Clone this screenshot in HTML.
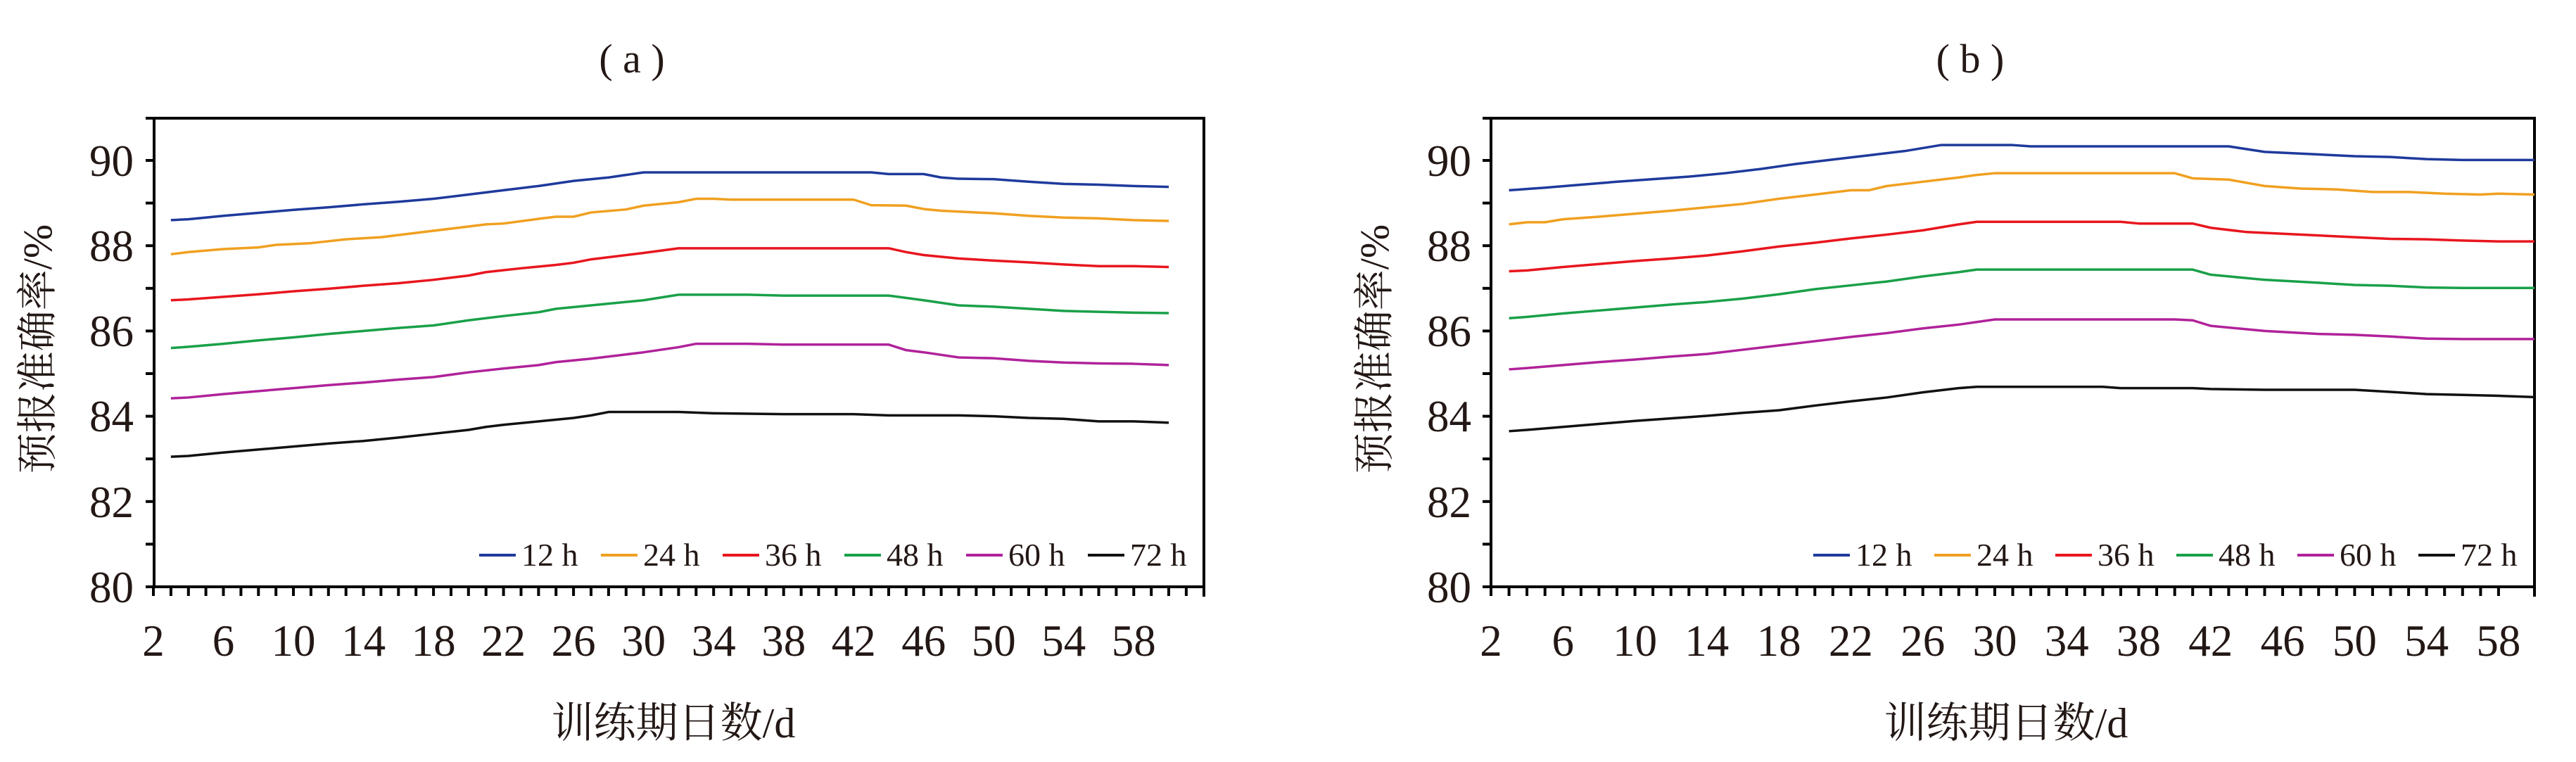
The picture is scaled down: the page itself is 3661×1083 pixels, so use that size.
<!DOCTYPE html>
<html><head><meta charset="utf-8"><style>
html,body{margin:0;padding:0;background:#fff;}
svg{display:block;}
.t{font-family:"Liberation Serif","Noto Serif CJK SC",serif;fill:#231815;}
</style></head><body>
<svg width="3661" height="1083" viewBox="0 0 3661 1083" xmlns="http://www.w3.org/2000/svg">
<defs>
<g id="yt" stroke="#000" stroke-width="4">
<line x1="-12" y1="834" x2="0" y2="834"/><line x1="-12" y1="773.4" x2="0" y2="773.4"/><line x1="-12" y1="712.8" x2="0" y2="712.8"/><line x1="-12" y1="652.2" x2="0" y2="652.2"/><line x1="-12" y1="591.6" x2="0" y2="591.6"/><line x1="-12" y1="531" x2="0" y2="531"/><line x1="-12" y1="470.4" x2="0" y2="470.4"/><line x1="-12" y1="409.8" x2="0" y2="409.8"/><line x1="-12" y1="349.2" x2="0" y2="349.2"/><line x1="-12" y1="288.6" x2="0" y2="288.6"/><line x1="-12" y1="228" x2="0" y2="228"/><line x1="-12" y1="168" x2="0" y2="168"/>
</g>
</defs>

<!-- ===== Panel a ===== -->
<text class="t" x="898" y="103" font-size="58" text-anchor="middle">( a )</text>
<use href="#yt" x="219"/>
<g stroke="#000" stroke-width="4" fill="none">
<line x1="207" y1="168" x2="1713" y2="168"/>
<line x1="219" y1="166" x2="219" y2="836"/>
<line x1="1711" y1="166" x2="1711" y2="848"/>
<line x1="217" y1="834" x2="1713" y2="834"/>
<path d="M218 834v13M242.9 834v13M267.8 834v13M292.6 834v13M317.5 834v13M342.4 834v13M367.3 834v13M392.2 834v13M417 834v13M441.9 834v13M466.8 834v13M491.7 834v13M516.6 834v13M541.4 834v13M566.3 834v13M591.2 834v13M616.1 834v13M641 834v13M665.8 834v13M690.7 834v13M715.6 834v13M740.5 834v13M765.4 834v13M790.2 834v13M815.1 834v13M840 834v13M864.9 834v13M889.8 834v13M914.6 834v13M939.5 834v13M964.4 834v13M989.3 834v13M1014.2 834v13M1039 834v13M1063.9 834v13M1088.8 834v13M1113.7 834v13M1138.6 834v13M1163.4 834v13M1188.3 834v13M1213.2 834v13M1238.1 834v13M1263 834v13M1287.8 834v13M1312.7 834v13M1337.6 834v13M1362.5 834v13M1387.4 834v13M1412.2 834v13M1437.1 834v13M1462 834v13M1486.9 834v13M1511.8 834v13M1536.6 834v13M1561.5 834v13M1586.4 834v13M1611.3 834v13M1636.2 834v13M1661 834v13M1685.9 834v13"/>
</g>
<g class="t" font-size="63" text-anchor="end">
<text x="190" y="856">80</text><text x="190" y="735">82</text><text x="190" y="613">84</text><text x="190" y="492">86</text><text x="190" y="371">88</text><text x="190" y="250">90</text>
</g>
<g class="t" font-size="63" text-anchor="middle">
<text x="218" y="932">2</text><text x="317.5" y="932">6</text><text x="417" y="932">10</text><text x="516.6" y="932">14</text><text x="616.1" y="932">18</text><text x="715.6" y="932">22</text><text x="815.1" y="932">26</text><text x="914.6" y="932">30</text><text x="1014.2" y="932">34</text><text x="1113.7" y="932">38</text><text x="1213.2" y="932">42</text><text x="1312.7" y="932">46</text><text x="1412.2" y="932">50</text><text x="1511.8" y="932">54</text><text x="1611.3" y="932">58</text>
</g>
<text class="t" font-size="58" text-anchor="middle" transform="translate(73,496) rotate(-90)">预报准确率/%</text>
<text class="t" font-size="60" text-anchor="middle" x="957" y="1048">训练期日数/d</text>

<g transform="translate(168.24,5682) scale(24.88,-60.6)" fill="none" stroke-width="3.5" stroke-linejoin="round">
<polyline vector-effect="non-scaling-stroke" stroke="#1f3a9c" points="3,88.6 4,88.62 6,88.7 8,88.77 10,88.84 12,88.9 14,88.97 16,89.03 18,89.1 20,89.2 22,89.3 24,89.4 26,89.52 28,89.6 30,89.72 32,89.72 43,89.72 44,89.68 46,89.68 47,89.6 48,89.57 50,89.56 52,89.5 54,89.45 56,89.43 58,89.4 60,89.38"/>
<polyline vector-effect="non-scaling-stroke" stroke="#f0a020" points="3,87.8 4,87.85 6,87.92 8,87.96 9,88.02 11,88.06 13,88.15 15,88.2 17,88.3 19,88.4 21,88.5 22,88.52 24,88.63 25,88.68 26,88.68 27,88.78 29,88.85 30,88.94 32,89.02 33,89.1 34,89.1 35,89.08 42,89.08 43,88.95 45,88.94 46,88.86 47,88.82 50,88.76 52,88.7 54,88.66 56,88.64 58,88.6 60,88.58"/>
<polyline vector-effect="non-scaling-stroke" stroke="#e8161e" points="3,86.72 4,86.74 6,86.8 8,86.86 10,86.93 12,86.99 14,87.06 16,87.12 18,87.2 20,87.3 21,87.38 23,87.47 25,87.55 26,87.6 27,87.68 30,87.83 32,87.94 44,87.94 45,87.85 46,87.78 48,87.7 50,87.65 52,87.61 54,87.56 56,87.52 58,87.52 60,87.5"/>
<polyline vector-effect="non-scaling-stroke" stroke="#1aa049" points="3,85.6 4,85.63 6,85.7 8,85.78 10,85.85 12,85.93 14,86 16,86.07 18,86.13 20,86.25 22,86.35 24,86.44 25,86.52 27,86.6 30,86.72 32,86.85 36,86.85 38,86.83 44,86.83 46,86.72 48,86.6 50,86.57 54,86.47 58,86.43 60,86.42"/>
<polyline vector-effect="non-scaling-stroke" stroke="#b0229a" points="3,84.42 4,84.44 6,84.52 8,84.59 10,84.66 12,84.73 14,84.79 16,84.86 18,84.92 20,85.03 22,85.12 24,85.2 25,85.27 27,85.35 30,85.5 32,85.62 33,85.7 36,85.7 38,85.68 44,85.68 45,85.55 46,85.5 48,85.38 50,85.36 52,85.3 54,85.26 56,85.24 58,85.23 60,85.2"/>
<polyline vector-effect="non-scaling-stroke" stroke="#111" points="3,83.05 4,83.07 6,83.15 8,83.22 10,83.29 12,83.36 14,83.42 16,83.5 18,83.59 20,83.68 21,83.75 22,83.8 24,83.88 26,83.96 27,84.02 28,84.1 32,84.1 34,84.07 38,84.05 42,84.05 44,84.02 48,84.02 50,84 52,83.96 54,83.94 56,83.88 58,83.88 60,83.85"/>
</g>
<g stroke-width="4">
<line x1="681" y1="789" x2="733" y2="789" stroke="#1f3a9c"/>
<line x1="854" y1="789" x2="906" y2="789" stroke="#f0a020"/>
<line x1="1027" y1="789" x2="1079" y2="789" stroke="#e8161e"/>
<line x1="1200" y1="789" x2="1252" y2="789" stroke="#1aa049"/>
<line x1="1373" y1="789" x2="1425" y2="789" stroke="#b0229a"/>
<line x1="1546" y1="789" x2="1598" y2="789" stroke="#111"/>
</g>
<g class="t" font-size="46">
<text x="741" y="804">12 h</text><text x="914" y="804">24 h</text><text x="1087" y="804">36 h</text><text x="1260" y="804">48 h</text><text x="1433" y="804">60 h</text><text x="1606" y="804">72 h</text>
</g>

<!-- ===== Panel b ===== -->
<text class="t" x="2800" y="103" font-size="58" text-anchor="middle">( b )</text>
<use href="#yt" x="2119"/>
<g stroke="#000" stroke-width="4" fill="none">
<line x1="2107" y1="168" x2="3604" y2="168"/>
<line x1="2119" y1="166" x2="2119" y2="836"/>
<line x1="3602" y1="166" x2="3602" y2="848"/>
<line x1="2117" y1="834" x2="3604" y2="834"/>
<path d="M2119 834v13M2144.6 834v13M2170.1 834v13M2195.7 834v13M2221.3 834v13M2246.9 834v13M2272.4 834v13M2298 834v13M2323.6 834v13M2349.1 834v13M2374.7 834v13M2400.3 834v13M2425.8 834v13M2451.4 834v13M2477 834v13M2502.6 834v13M2528.1 834v13M2553.7 834v13M2579.3 834v13M2604.8 834v13M2630.4 834v13M2656 834v13M2681.5 834v13M2707.1 834v13M2732.7 834v13M2758.3 834v13M2783.8 834v13M2809.4 834v13M2835 834v13M2860.5 834v13M2886.1 834v13M2911.7 834v13M2937.2 834v13M2962.8 834v13M2988.4 834v13M3014 834v13M3039.5 834v13M3065.1 834v13M3090.7 834v13M3116.2 834v13M3141.8 834v13M3167.4 834v13M3192.9 834v13M3218.5 834v13M3244.1 834v13M3269.7 834v13M3295.2 834v13M3320.8 834v13M3346.4 834v13M3371.9 834v13M3397.5 834v13M3423.1 834v13M3448.6 834v13M3474.2 834v13M3499.8 834v13M3525.4 834v13M3550.9 834v13"/>
</g>
<g class="t" font-size="63" text-anchor="end">
<text x="2091" y="856">80</text><text x="2091" y="735">82</text><text x="2091" y="613">84</text><text x="2091" y="492">86</text><text x="2091" y="371">88</text><text x="2091" y="250">90</text>
</g>
<g class="t" font-size="63" text-anchor="middle">
<text x="2119" y="932">2</text><text x="2221.3" y="932">6</text><text x="2323.6" y="932">10</text><text x="2425.8" y="932">14</text><text x="2528.1" y="932">18</text><text x="2630.4" y="932">22</text><text x="2732.7" y="932">26</text><text x="2835" y="932">30</text><text x="2937.2" y="932">34</text><text x="3039.5" y="932">38</text><text x="3141.8" y="932">42</text><text x="3244.1" y="932">46</text><text x="3346.4" y="932">50</text><text x="3448.6" y="932">54</text><text x="3550.9" y="932">58</text>
</g>
<text class="t" font-size="58" text-anchor="middle" transform="translate(1973,496) rotate(-90)">预报准确率/%</text>
<text class="t" font-size="60" text-anchor="middle" x="2851" y="1048">训练期日数/d</text>

<g transform="translate(2067.86,5682) scale(25.57,-60.6)" fill="none" stroke-width="3.5" stroke-linejoin="round">
<polyline vector-effect="non-scaling-stroke" stroke="#1f3a9c" points="3,89.3 5,89.36 7,89.43 9,89.5 11,89.56 13,89.62 15,89.7 17,89.8 19,89.92 21,90.02 23,90.12 25,90.22 27,90.36 31,90.36 32,90.33 43,90.33 45,90.2 48,90.14 50,90.1 52,90.08 54,90.03 56,90.01 60,90.01"/>
<polyline vector-effect="non-scaling-stroke" stroke="#f0a020" points="3,88.5 4,88.55 5,88.55 6,88.62 8,88.68 10,88.75 12,88.82 14,88.9 16,88.98 18,89.1 20,89.2 22,89.3 23,89.3 24,89.4 26,89.5 28,89.6 29,89.66 30,89.7 40,89.7 41,89.58 43,89.55 45,89.4 47,89.34 49,89.32 51,89.26 53,89.26 55,89.22 57,89.2 58,89.22 60,89.2"/>
<polyline vector-effect="non-scaling-stroke" stroke="#e8161e" points="3,87.4 4,87.42 6,87.5 8,87.57 10,87.64 12,87.7 14,87.77 16,87.87 18,87.98 20,88.07 22,88.17 24,88.26 26,88.36 28,88.5 29,88.56 37,88.56 38,88.52 41,88.52 42,88.42 44,88.32 45,88.3 48,88.24 50,88.2 52,88.16 54,88.15 56,88.12 58,88.1 60,88.1"/>
<polyline vector-effect="non-scaling-stroke" stroke="#1aa049" points="3,86.3 4,86.33 6,86.41 8,86.48 10,86.55 12,86.62 14,86.68 16,86.76 18,86.86 20,86.98 22,87.07 24,87.16 26,87.28 28,87.38 29,87.44 41,87.44 42,87.32 45,87.2 48,87.13 50,87.08 52,87.06 54,87.02 56,87.01 60,87.01"/>
<polyline vector-effect="non-scaling-stroke" stroke="#b0229a" points="3,85.1 4,85.13 6,85.2 8,85.27 10,85.33 12,85.4 14,85.46 16,85.56 18,85.66 20,85.76 22,85.86 24,85.95 26,86.06 28,86.15 30,86.27 40,86.27 41,86.25 42,86.12 45,86 48,85.93 50,85.91 52,85.87 54,85.82 56,85.81 60,85.81"/>
<polyline vector-effect="non-scaling-stroke" stroke="#111" points="3,83.65 4,83.68 6,83.75 8,83.82 10,83.89 12,83.95 14,84.01 16,84.08 18,84.14 20,84.25 22,84.35 24,84.44 26,84.56 28,84.66 29,84.69 36,84.69 37,84.66 41,84.66 42,84.64 45,84.62 50,84.62 52,84.57 54,84.52 56,84.5 58,84.48 60,84.45"/>
</g>
<g stroke-width="4">
<line x1="2577" y1="789" x2="2629" y2="789" stroke="#1f3a9c"/>
<line x1="2749" y1="789" x2="2801" y2="789" stroke="#f0a020"/>
<line x1="2921" y1="789" x2="2973" y2="789" stroke="#e8161e"/>
<line x1="3093" y1="789" x2="3145" y2="789" stroke="#1aa049"/>
<line x1="3265" y1="789" x2="3317" y2="789" stroke="#b0229a"/>
<line x1="3437" y1="789" x2="3489" y2="789" stroke="#111"/>
</g>
<g class="t" font-size="46">
<text x="2637" y="804">12 h</text><text x="2809" y="804">24 h</text><text x="2981" y="804">36 h</text><text x="3153" y="804">48 h</text><text x="3325" y="804">60 h</text><text x="3497" y="804">72 h</text>
</g>
</svg>
</body></html>
